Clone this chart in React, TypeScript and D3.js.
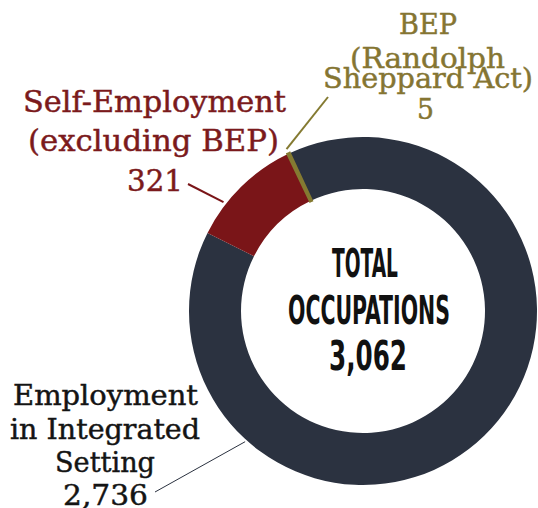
import React from "react";
import * as d3 from "d3";

// ---- data ----
const categories = [
  "Employment in Integrated Setting",
  "Self-Employment (excluding BEP)",
  "BEP (Randolph Sheppard Act)",
];
const values = [2736, 321, 5];
const labelLines = [
  ["Employment", "in Integrated", "Setting"],
  ["Self-Employment", "(excluding BEP)"],
  ["BEP", "(Randolph", "Sheppard Act)"],
];
const centerTitle = ["TOTAL", "OCCUPATIONS"];

// ---- styles ----
const sliceColors = ["#2b3240", "#7a1518", "#847a31"];
const textColors = ["#141414", "#7b1a1c", "#857532"];
const leaderColors = ["#2b3240", "#7a1518", "#847a31"];
const leaderWidths = [1, 2, 2];
const labelSizes = [28, 30, 27];

// ---- layout ----
const W = 538;
const H = 508;
const cx = 363;
const cy = 311;
const outerR = 174;
const innerR = 122;
const startDeg = -25;
const serif = "'DejaVu Serif', 'Liberation Serif', serif";
const condensed = "'DejaVu Sans Condensed', 'DejaVu Sans', sans-serif";

// per label: line boxes [left x, baseline y, width], leader anchor fraction along slice, leader radius, leader end
const labelLayout = [
  {
    boxes: [
      [13, 405, 185],
      [10, 439, 190],
      [55, 472, 100],
      [63, 505, 85],
    ],
    frac: 0.768,
    rad: 176,
    end: [155, 492],
  },
  {
    boxes: [
      [23, 112, 263],
      [28, 151, 251],
      [127, 191, 56],
    ],
    frac: 0.3,
    rad: 177,
    end: [188, 184],
  },
  {
    boxes: [
      [399, 34, 58],
      [350, 68, 155],
      [323, 88, 210],
      [417, 119, 17],
    ],
    frac: 0.5,
    rad: 179,
    end: [328, 97],
  },
];
const centerBoxes = [
  [332, 277, 66, 39],
  [288, 324, 162, 39],
  [329, 370, 78, 40],
];

export default function App() {
  const fmt = d3.format(",");
  const total = d3.sum(values);
  const start = (startDeg * Math.PI) / 180;
  const pie = d3
    .pie<number>()
    .sort(null)
    .value((d) => d)
    .startAngle(start)
    .endAngle(start + 2 * Math.PI);
  const arcs = pie(values);
  const arcGen = d3
    .arc<d3.PieArcDatum<number>>()
    .innerRadius(innerR)
    .outerRadius(outerR);

  return (
    <svg
      width={W}
      height={H}
      style={{ position: "absolute", left: 0, top: 0, background: "#fff" }}
    >
      <g transform={`translate(${cx},${cy})`}>
        {arcs.map((a, i) => (
          <path
            key={categories[i]}
            d={arcGen(a) || ""}
            fill={sliceColors[i]}
            stroke={i === 2 ? sliceColors[i] : "none"}
            strokeWidth={i === 2 ? 3 : 0}
          />
        ))}
      </g>
      {arcs.map((a, i) => {
        const L = labelLayout[i];
        const ang = a.startAngle + L.frac * (a.endAngle - a.startAngle);
        const x1 = cx + L.rad * Math.sin(ang);
        const y1 = cy - L.rad * Math.cos(ang);
        return (
          <line
            key={"l" + i}
            x1={x1}
            y1={y1}
            x2={L.end[0]}
            y2={L.end[1]}
            stroke={leaderColors[i]}
            strokeWidth={leaderWidths[i]}
          />
        );
      })}
      {labelLines.map((lines, i) => {
        const L = labelLayout[i];
        const all = [...lines, fmt(values[i])];
        return (
          <g
            key={"t" + i}
            fill={textColors[i]}
            stroke={textColors[i]}
            strokeWidth={0.45}
            fontFamily={serif}
            fontSize={labelSizes[i]}
          >
            {all.map((s, j) => (
              <text
                key={j}
                x={L.boxes[j][0]}
                y={L.boxes[j][1]}
                textLength={L.boxes[j][2]}
                lengthAdjust="spacingAndGlyphs"
              >
                {s}
              </text>
            ))}
          </g>
        );
      })}
      {[...centerTitle, fmt(total)].map((s, j) => (
        <text
          key={"c" + j}
          x={centerBoxes[j][0]}
          y={centerBoxes[j][1]}
          textLength={centerBoxes[j][2]}
          lengthAdjust="spacingAndGlyphs"
          fontFamily={condensed}
          fontWeight="bold"
          fontSize={centerBoxes[j][3]}
          fill="#111"
        >
          {s}
        </text>
      ))}
    </svg>
  );
}
